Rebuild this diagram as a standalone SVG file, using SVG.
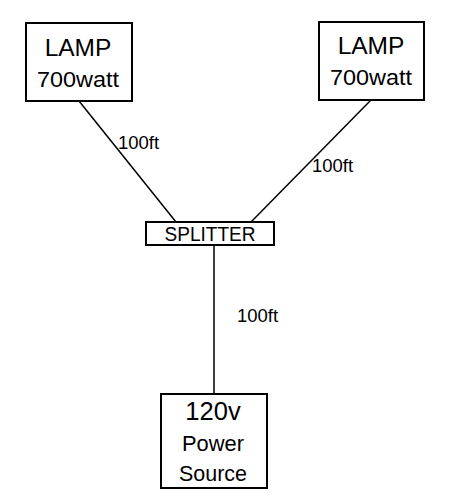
<svg xmlns="http://www.w3.org/2000/svg" width="462" height="499" viewBox="0 0 462 499">
<style>
.box{fill:#fff;stroke:#000;stroke-width:2}
.wire{stroke:#000;stroke-width:1.5;fill:none}
text{font-family:"Liberation Sans",Arial,sans-serif;fill:#000;text-anchor:middle}
.big{font-size:24.5px}
.mid{font-size:22px}
.lbl{font-size:18.5px;text-anchor:start}
</style>
<rect width="462" height="499" fill="#fff"/>
<g id="connectors">
<line class="wire" x1="79" y1="101" x2="176" y2="222"/>
<line class="wire" x1="371" y1="100" x2="251" y2="222"/>
<line class="wire" x1="214" y1="245" x2="214" y2="394"/>
<text class="lbl" x="118" y="149">100ft</text>
<text class="lbl" x="312" y="172">100ft</text>
<text class="lbl" x="237" y="322">100ft</text>
</g>
<g id="lamp-left">
<rect class="box" x="26" y="23" width="106" height="78"/>
<text class="big" x="78" y="56">LAMP</text>
<text class="mid" x="78" y="87" textLength="82" lengthAdjust="spacingAndGlyphs">700watt</text>
</g>
<g id="lamp-right">
<rect class="box" x="319" y="22" width="105" height="78"/>
<text class="big" x="371" y="54">LAMP</text>
<text class="mid" x="371" y="85" textLength="82" lengthAdjust="spacingAndGlyphs">700watt</text>
</g>
<g id="splitter">
<rect class="box" x="146" y="222" width="128" height="23"/>
<text x="210" y="241" style="font-size:19.5px" textLength="91" lengthAdjust="spacingAndGlyphs">SPLITTER</text>
</g>
<g id="power">
<rect class="box" x="161" y="394" width="106" height="94"/>
<text x="213" y="420" style="font-size:25.5px">120v</text>
<text x="213" y="451" class="mid" textLength="62" lengthAdjust="spacingAndGlyphs">Power</text>
<text x="213" y="481" class="mid" textLength="68" lengthAdjust="spacingAndGlyphs">Source</text>
</g>
</svg>
